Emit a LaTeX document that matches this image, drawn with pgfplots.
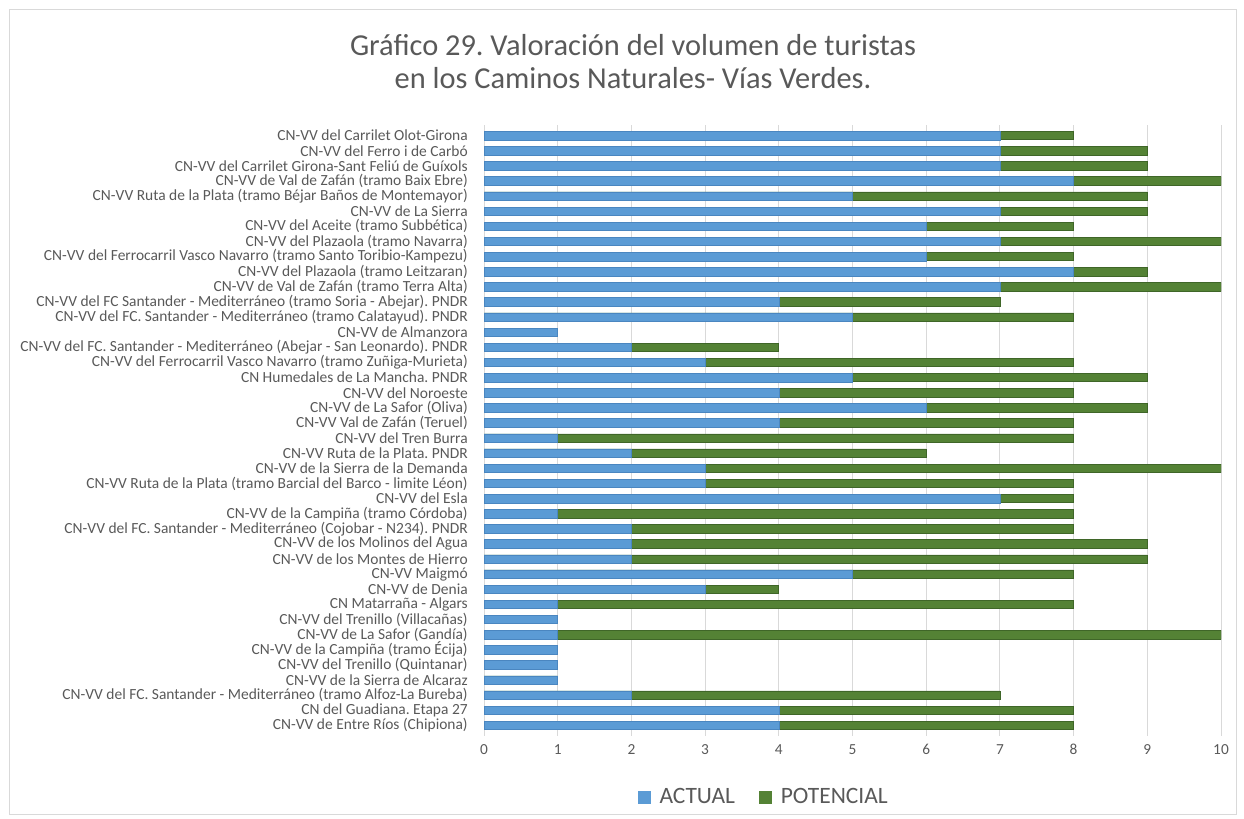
\documentclass[border=0pt]{standalone}
\usepackage{pgfplots}
\pgfplotsset{compat=1.18}
\usepackage{pgfplotstable}
\usepackage{fontspec}
\setmainfont{Carlito}
\frenchspacing
\definecolor{actualblue}{HTML}{5B9BD5}
\definecolor{actualedge}{HTML}{4A86C0}
\definecolor{potgreen}{HTML}{548235}
\definecolor{potedge}{HTML}{3F6628}
\definecolor{txtgray}{HTML}{595959}
\definecolor{gridgray}{HTML}{D9D9D9}

\pgfplotstableread{
idx A P
0 7 8
1 7 9
2 7 9
3 8 10
4 5 9
5 7 9
6 6 8
7 7 10
8 6 8
9 8 9
10 7 10
11 4 7
12 5 8
13 1 1
14 2 4
15 3 8
16 5 9
17 4 8
18 6 9
19 4 8
20 1 8
21 2 6
22 3 10
23 3 8
24 7 8
25 1 8
26 2 8
27 2 9
28 2 9
29 5 8
30 3 4
31 1 8
32 1 1
33 1 10
34 1 1
35 1 1
36 1 1
37 2 7
38 4 8
39 4 8
}\datatable

\begin{document}
\begin{tikzpicture}
\useasboundingbox (0,0) rectangle (933pt,613.5pt);
\draw[gridgray, line width=0.75pt] (7pt,3pt) rectangle (927.5pt,606pt);
\node[text=txtgray, align=center, font=\fontsize{22.8pt}{24.75pt}\selectfont] at (474.75pt,567.5pt)
  {Gráfico 29. Valoración del volumen de turistas\\en los Caminos Naturales- Vías Verdes.};
\begin{axis}[
  at={(363pt,61.5pt)}, anchor=south west,
  scale only axis, width=552.75pt, height=458.25pt,
  xmin=0, xmax=10, ymin=-0.7, ymax=39.7,
  y dir=reverse,
  axis line style={draw=none},
  xtick={0,1,...,10},
  ytick={0,1,...,39},
  major tick length=0pt,
  xmajorgrids, grid style={gridgray, line width=0.75pt},
  /pgf/number format/assume math mode=true,
  xticklabel style={font=\fontsize{11.5pt}{14pt}\selectfont, text=txtgray, inner sep=0pt, yshift=-6pt},
  yticklabel style={font=\fontsize{11.6pt}{13pt}\selectfont, text=txtgray, inner sep=0pt, xshift=-12pt},
  yticklabels={
    {CN-VV del Carrilet Olot-Girona},
    {CN-VV del Ferro i de Carbó},
    {CN-VV del Carrilet Girona-Sant Feliú de Guíxols},
    {CN-VV de Val de Zafán (tramo Baix Ebre)},
    {CN-VV Ruta de la Plata (tramo Béjar Baños de Montemayor)},
    {CN-VV de La Sierra},
    {CN-VV del Aceite (tramo Subbética)},
    {CN-VV del Plazaola (tramo Navarra)},
    {CN-VV del Ferrocarril Vasco Navarro (tramo Santo Toribio-Kampezu)},
    {CN-VV del Plazaola (tramo Leitzaran)},
    {CN-VV de Val de Zafán (tramo Terra Alta)},
    {CN-VV del FC Santander - Mediterráneo (tramo Soria - Abejar). PNDR},
    {CN-VV del FC. Santander - Mediterráneo (tramo Calatayud). PNDR},
    {CN-VV de Almanzora},
    {CN-VV del FC. Santander - Mediterráneo (Abejar - San Leonardo). PNDR},
    {CN-VV del Ferrocarril Vasco Navarro (tramo Zuñiga-Murieta)},
    {CN Humedales de La Mancha. PNDR},
    {CN-VV del Noroeste},
    {CN-VV de La Safor (Oliva)},
    {CN-VV Val de Zafán (Teruel)},
    {CN-VV del Tren Burra},
    {CN-VV Ruta de la Plata. PNDR},
    {CN-VV de la Sierra de la Demanda},
    {CN-VV Ruta de la Plata (tramo Barcial del Barco - limite Léon)},
    {CN-VV del Esla},
    {CN-VV de la Campiña (tramo Córdoba)},
    {CN-VV del FC. Santander - Mediterráneo (Cojobar - N234). PNDR},
    {CN-VV de los Molinos del Agua},
    {CN-VV de los Montes de Hierro},
    {CN-VV Maigmó},
    {CN-VV de Denia},
    {CN Matarraña - Algars},
    {CN-VV del Trenillo (Villacañas)},
    {CN-VV de La Safor (Gandía)},
    {CN-VV de la Campiña (tramo Écija)},
    {CN-VV del Trenillo (Quintanar)},
    {CN-VV de la Sierra de Alcaraz},
    {CN-VV del FC. Santander - Mediterráneo (tramo Alfoz-La Bureba)},
    {CN del Guadiana. Etapa 27},
    {CN-VV de Entre Ríos (Chipiona)}
  },
  legend columns=2,
  legend style={at={(0.38,-0.1)}, anchor=center, draw=none, fill=none,
    font=\fontsize{17.6pt}{19pt}\selectfont, text=txtgray,
    /tikz/every odd column/.append style={column sep=5pt},
    /tikz/every even column/.append style={column sep=16pt}},
]
\addlegendimage{legend image code/.code={\fill[actualblue] (0pt,-4.5pt) rectangle (9pt,4.5pt);}}
\addlegendentry{ACTUAL}
\addlegendimage{legend image code/.code={\fill[potgreen] (0pt,-4.5pt) rectangle (9pt,4.5pt);}}
\addlegendentry{POTENCIAL}
\addplot[xbar, bar width=6.3pt, bar shift=0pt, fill=potgreen, draw=potedge, line width=0.5pt, forget plot]
  table[x=P, y=idx] {\datatable};
\addplot[xbar, bar width=6.3pt, bar shift=0pt, fill=actualblue, draw=actualedge, line width=0.4pt, forget plot]
  table[x=A, y=idx] {\datatable};
\end{axis}
\end{tikzpicture}
\end{document}
